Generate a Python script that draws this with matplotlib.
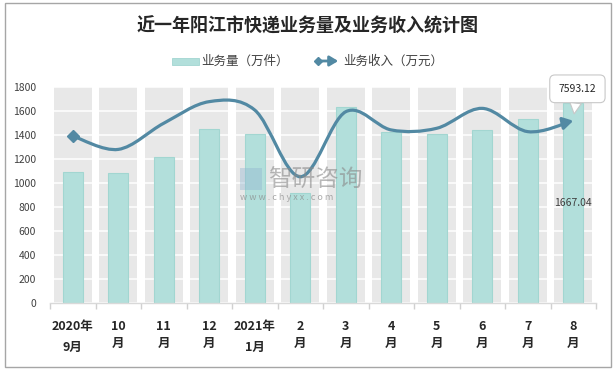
import matplotlib
matplotlib.use("Agg")
import matplotlib.pyplot as plt
import numpy as np
from matplotlib.path import Path
from matplotlib.patches import FancyArrowPatch, Rectangle
from matplotlib.lines import Line2D

plt.rcParams['font.family'] = ['Noto Sans CJK SC', 'DejaVu Sans']

categories = ["2020年\n9月", "10\n月", "11\n月", "12\n月", "2021年\n1月", "2\n月",
              "3\n月", "4\n月", "5\n月", "6\n月", "7\n月", "8\n月"]
volume = [1089, 1081, 1219, 1447, 1405, 919, 1631, 1422, 1405, 1439, 1531, 1667.04]
income = [6960, 6400, 7490, 8390, 8040, 5260, 7970, 7210, 7280, 8110, 7140, 7593.12]
yticks = [0, 200, 400, 600, 800, 1000, 1200, 1400, 1600, 1800]

W, H = 616, 372
fig = plt.figure(figsize=(W / 100, H / 100), dpi=100)
fig.patch.set_facecolor('white')

def fx(px):
    return px / W

def fy(py):
    return 1 - py / H

# border of the figure
fig.add_artist(Rectangle((fx(5), fy(367)), fx(611) - fx(5), fy(3) - fy(367),
                         transform=fig.transFigure, fill=False, ec='#a6a6a6', lw=1))

ax = fig.add_axes([fx(50), fy(303), fx(596) - fx(50), fy(87) - fy(303)])
x = np.arange(len(categories))

# gray background columns
ax.bar(x, [yticks[-1]] * len(x), width=0.83, color='#e8e8e8', zorder=0.2)
ax.set_axisbelow(True)
ax.yaxis.grid(True, color='white', lw=1.1)
ax.bar(x, volume, width=0.44, color='#b2dfdb', edgecolor='#a2d6d1', lw=0.8, zorder=2)

ax.set_xlim(-0.5, len(x) - 0.5)
ax.set_ylim(0, 1800)
ax.set_yticks(yticks)
ax.set_yticklabels([str(v) for v in yticks], fontsize=7.5, color='#404040')
ax.tick_params(axis='y', length=0, pad=10)
ax.set_xticks(x)
ax.set_xticklabels(categories, fontsize=9, fontweight='bold', color='#262626')
for i, lab in enumerate(ax.get_xticklabels()):
    lab.set_linespacing(1.85 if i in (0, 4) else 1.45)
ax.set_xticks(np.arange(-0.5, len(x), 1), minor=True)
ax.tick_params(axis='x', which='major', length=0, pad=12)
ax.tick_params(axis='x', which='minor', length=4, color='#d0d0d0', width=1)
for s in ['left', 'right', 'top']:
    ax.spines[s].set_visible(False)
ax.spines['bottom'].set_color('#d9d9d9')
ax.spines['bottom'].set_linewidth(1)

# label inside last bar
ax.text(x[-1], volume[-1] / 2, f"{volume[-1]:.2f}", ha='center', va='center',
        fontsize=7.5, color='#404040', zorder=5)

# secondary axis for income (hidden)
ax2 = ax.twinx()
ax2.set_ylim(0, 9000)
ax2.set_axis_off()

# smooth line (Catmull-Rom bezier through data points)
pts = np.column_stack([x, income]).astype(float)
n = len(pts)
verts = [pts[0]]
codes = [Path.MOVETO]
for i in range(n - 1):
    p0 = pts[i - 1] if i > 0 else pts[i]
    p1 = pts[i]
    p2 = pts[i + 1]
    p3 = pts[i + 2] if i + 2 < n else pts[i + 1]
    c1 = p1 + (p2 - p0) / 6
    c2 = p2 - (p3 - p1) / 6
    verts += [c1, c2, p2]
    codes += [Path.CURVE4] * 3
line_color = '#5289a3'
arrow = FancyArrowPatch(path=Path(verts, codes), arrowstyle='-|>,head_length=0.5,head_width=0.3',
                        mutation_scale=12, color=line_color, lw=2.3, zorder=4)
ax2.add_patch(arrow)
ax2.plot([x[0]], [income[0]], marker='D', ms=6, color=line_color, zorder=5)

# callout for last income value
ax2.annotate(f"{income[-1]:.2f}", xy=(x[-1], income[-1]), xytext=(3, 23),
             textcoords='offset points', ha='center', va='center', fontsize=7.5,
             color='#262626', zorder=6,
             bbox=dict(boxstyle='round,pad=0.85,rounding_size=0.5', fc='white', ec='#c8c8c8', lw=0.8),
             arrowprops=dict(arrowstyle='wedge,tail_width=1.1,shrink_factor=0.5', fc='white',
                             ec='#c8c8c8', lw=0.8, shrinkA=0, shrinkB=5))

# watermark
fig.text(fx(268), fy(180), "智研咨询", fontsize=17, color='#8a8a8a', alpha=0.6,
         ha='left', va='center')
fig.text(fx(240), fy(198), "w w w . c h y x x . c o m", fontsize=6.5, color='#8a8a8a',
         alpha=0.7, ha='left', va='center')
fig.add_artist(Rectangle((fx(240), fy(190)), fx(22) - fx(0), fy(168) - fy(190),
                         transform=fig.transFigure, fc='#8fb4d0', ec='none', alpha=0.4))

# title
fig.text(fx(308), fy(26), "近一年阳江市快递业务量及业务收入统计图", fontsize=13,
         fontweight='bold', color='#262626', ha='center', va='center')

# legend (manual)
fig.add_artist(Rectangle((fx(172), fy(65)), fx(27) - fx(0), fy(58) - fy(65),
                         transform=fig.transFigure, fc='#b2dfdb', ec='#a2d6d1', lw=0.6))
fig.text(fx(201), fy(61), "业务量（万件）", fontsize=9, color='#404040', ha='left', va='center')
fig.add_artist(FancyArrowPatch((fx(316), fy(61)), (fx(341), fy(61)), transform=fig.transFigure,
                               arrowstyle='-|>,head_length=0.5,head_width=0.3', mutation_scale=10,
                               color=line_color, lw=2))
fig.add_artist(Line2D([fx(318)], [fy(61)], marker='D', ms=4.5, color=line_color,
                      transform=fig.transFigure))
fig.text(fx(343), fy(61), "业务收入（万元）", fontsize=9, color='#404040', ha='left', va='center')

fig.savefig("out.png", dpi=100, facecolor='white')
